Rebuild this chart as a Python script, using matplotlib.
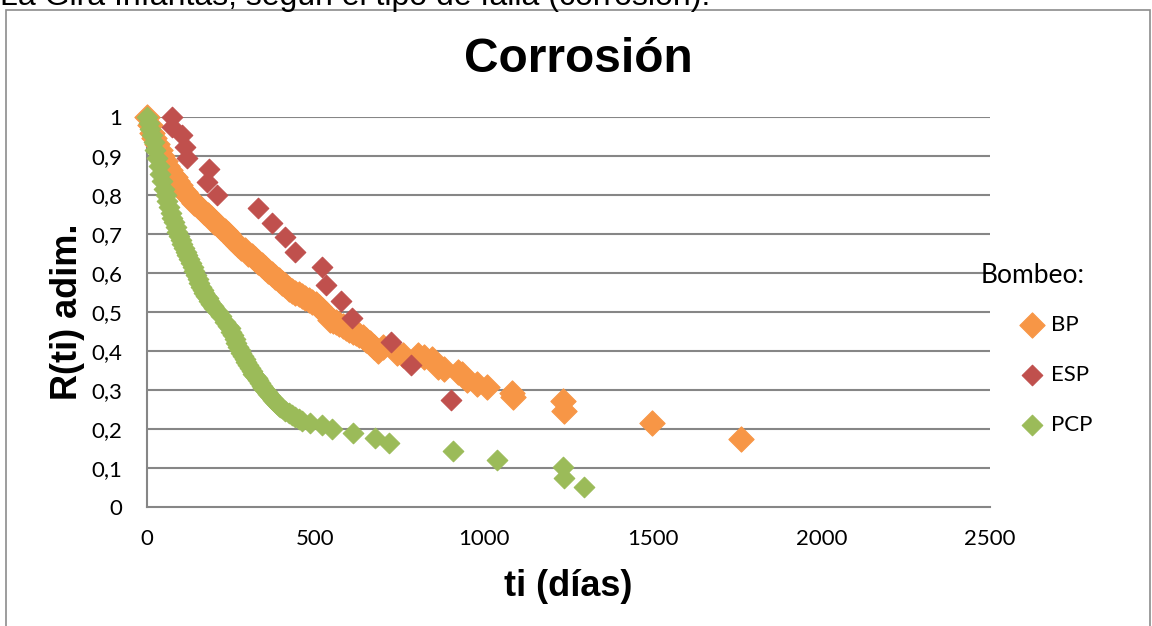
import matplotlib
matplotlib.use('Agg')
import matplotlib.pyplot as plt
from matplotlib.patches import Rectangle

# ---------------------------------------------------------------------------
# Data (ti in days, R(ti) dimensionless)
# ---------------------------------------------------------------------------
bp_t = [0, 8, 15, 22, 30, 38, 45, 52, 60, 68, 75, 82, 90, 98, 105, 112,
        120, 130, 140, 150, 160, 170, 180, 190, 200, 210, 220, 230, 240,
        250, 260, 270, 280, 290, 300, 310, 320, 330, 340, 350, 360, 370,
        380, 390, 400, 410, 420, 430, 440, 450, 460, 470, 480, 490, 500,
        510, 520, 530, 543, 552, 560, 570, 580, 590, 600, 610, 620, 630,
        641, 650, 660, 672, 685, 700, 741, 760, 804, 820, 845, 863, 880,
        922, 935, 949, 980, 1008, 1082, 1085, 1234, 1237, 1498, 1762]
bp_r = [1.0, 0.98, 0.96, 0.945, 0.93, 0.915, 0.90, 0.888, 0.875, 0.865,
        0.855, 0.845, 0.835, 0.825, 0.815, 0.808, 0.80, 0.79, 0.78, 0.772,
        0.765, 0.757, 0.75, 0.74, 0.73, 0.722, 0.715, 0.708, 0.70, 0.69,
        0.68, 0.672, 0.665, 0.658, 0.65, 0.643, 0.635, 0.628, 0.62, 0.612,
        0.605, 0.598, 0.59, 0.583, 0.575, 0.568, 0.56, 0.555, 0.55, 0.545,
        0.54, 0.535, 0.53, 0.525, 0.52, 0.512, 0.505, 0.495, 0.48, 0.478,
        0.475, 0.47, 0.465, 0.46, 0.455, 0.45, 0.445, 0.44, 0.436, 0.428,
        0.42, 0.41, 0.40, 0.41, 0.395, 0.39, 0.39, 0.385, 0.38, 0.36,
        0.355, 0.346, 0.34, 0.326, 0.315, 0.308, 0.292, 0.283, 0.272,
        0.247, 0.215, 0.174]

esp_t = [74, 74, 104, 113, 119, 184, 178, 208, 329, 371, 409, 439, 519,
         531, 575, 608, 724, 783, 902]
esp_r = [1.0, 0.974, 0.954, 0.923, 0.895, 0.867, 0.833, 0.80, 0.767, 0.728,
         0.692, 0.654, 0.615, 0.569, 0.528, 0.485, 0.423, 0.364, 0.274]

pcp_t = [0, 5, 10, 15, 20, 25, 30, 35, 40, 45, 50, 55, 60, 65, 70, 75, 80,
         85, 90, 95, 100, 105, 110, 115, 120, 125, 130, 135, 140, 145, 150,
         155, 160, 165, 170, 175, 180, 185, 190, 195, 200, 210, 220, 230,
         240, 245, 250, 255, 260, 265, 270, 275, 280, 285, 290, 295, 300,
         305, 310, 315, 320, 325, 330, 335, 340, 345, 350, 355, 360, 365,
         370, 375, 380, 385, 390, 395, 400, 410, 420, 430, 440, 450, 460,
         483, 518, 548, 611, 676, 718, 907, 1038, 1234, 1237, 1296]
pcp_r = [1.0, 0.985, 0.97, 0.955, 0.935, 0.915, 0.895, 0.875, 0.855, 0.835,
         0.815, 0.80, 0.785, 0.77, 0.755, 0.74, 0.73, 0.718, 0.705, 0.695,
         0.685, 0.675, 0.665, 0.655, 0.645, 0.635, 0.625, 0.615, 0.605,
         0.595, 0.585, 0.575, 0.565, 0.557, 0.55, 0.542, 0.535, 0.527,
         0.52, 0.515, 0.51, 0.50, 0.49, 0.475, 0.465, 0.458, 0.45, 0.44,
         0.43, 0.42, 0.41, 0.402, 0.395, 0.388, 0.38, 0.372, 0.365, 0.357,
         0.35, 0.342, 0.335, 0.33, 0.325, 0.318, 0.31, 0.305, 0.30, 0.295,
         0.29, 0.285, 0.28, 0.275, 0.27, 0.265, 0.26, 0.257, 0.255, 0.245,
         0.24, 0.235, 0.23, 0.225, 0.22, 0.215, 0.21, 0.20, 0.19, 0.177,
         0.164, 0.144, 0.12, 0.103, 0.074, 0.051]

x_ticks = [0, 500, 1000, 1500, 2000, 2500]
y_ticks = [0, 0.1, 0.2, 0.3, 0.4, 0.5, 0.6, 0.7, 0.8, 0.9, 1.0]
y_tick_labels = ['0', '0,1', '0,2', '0,3', '0,4', '0,5', '0,6', '0,7',
                 '0,8', '0,9', '1']

# ---------------------------------------------------------------------------
# Office 2007 palette
# ---------------------------------------------------------------------------
_C = dict(
    bp='#F79646',
    esp='#C0504D',
    pcp='#9BBB59',
    grid='#868686',
    border='#8c8c8c',
    text='#000000',
)

W, H = 1152, 626
fig = plt.figure(figsize=(W / 100, H / 100), dpi=100)
fig.patch.set_facecolor('white')

# outer chart frame (bottom edge runs off the picture)
fig.patches.append(Rectangle((6 / W, -0.05), (1150 - 6) / W, 1 - 10 / H + 0.05,
                             transform=fig.transFigure, fill=False,
                             edgecolor=_C['border'], linewidth=1.2))

# caption text partially cut at the top edge
fig.text(0.0, 1 - 5 / H, 'La Gira Infantas, según el tipo de falla (corrosión).',
         fontsize=23, family='Liberation Sans', va='baseline', ha='left')

fig.text(578 / W, 1 - 60 / H, 'Corrosión', fontsize=34.5, fontweight='bold',
         family='Liberation Sans', ha='center', va='center')

ax = fig.add_axes([147 / W, 1 - 507 / H, (990 - 147) / W, (507 - 117) / H])
ax.set_xlim(0, 2500)
ax.set_ylim(0, 1)

for y in y_ticks[1:]:
    ax.axhline(y, color=_C['grid'], lw=1.5, zorder=1)

for s in ('top', 'right'):
    ax.spines[s].set_visible(False)
for s in ('left', 'bottom'):
    ax.spines[s].set_color(_C['grid'])
    ax.spines[s].set_linewidth(1.5)

ax.set_xticks(x_ticks)
ax.set_xticklabels([str(v) for v in x_ticks])
ax.set_yticks(y_ticks)
ax.set_yticklabels(y_tick_labels)
ax.tick_params(axis='both', length=0, labelsize=16)
ax.tick_params(axis='x', pad=16)
ax.tick_params(axis='y', pad=18)
for lab in ax.get_xticklabels() + ax.get_yticklabels():
    lab.set_family('Lato')

h_bp = ax.scatter(bp_t, bp_r, marker='D', s=165, color=_C['bp'],
                  edgecolors=_C['bp'], linewidths=0.8, zorder=3,
                  clip_on=False, label='BP')
h_esp = ax.scatter(esp_t, esp_r, marker='D', s=110, color=_C['esp'],
                   edgecolors=_C['esp'], linewidths=0.8, zorder=4,
                   clip_on=False, label='ESP')
h_pcp = ax.scatter(pcp_t, pcp_r, marker='D', s=110, color=_C['pcp'],
                   edgecolors=_C['pcp'], linewidths=0.8, zorder=5,
                   clip_on=False, label='PCP')

ax.set_xlabel('ti (días)', fontsize=26, fontweight='bold',
              family='Liberation Sans', labelpad=14)
ax.set_ylabel('R(ti) adim.', fontsize=26, fontweight='bold',
              family='Liberation Sans', labelpad=4)

# legend: title and entries placed separately, like the Excel layout
fig.text(981 / W, 1 - 276 / H, 'Bombeo:', fontsize=19, family='Lato',
         ha='left', va='center')
leg = fig.legend(handles=[h_bp, h_esp, h_pcp], labels=['BP', 'ESP', 'PCP'],
                 loc='center left', bbox_to_anchor=(1021 / W, 1 - 375 / H),
                 frameon=False, fontsize=16, labelspacing=1.35,
                 handlelength=1.0, handletextpad=0.35, borderpad=0,
                 borderaxespad=0, scatterpoints=1)
for t in leg.get_texts():
    t.set_family('Lato')

fig.savefig('out.png', dpi=100, facecolor='white')
